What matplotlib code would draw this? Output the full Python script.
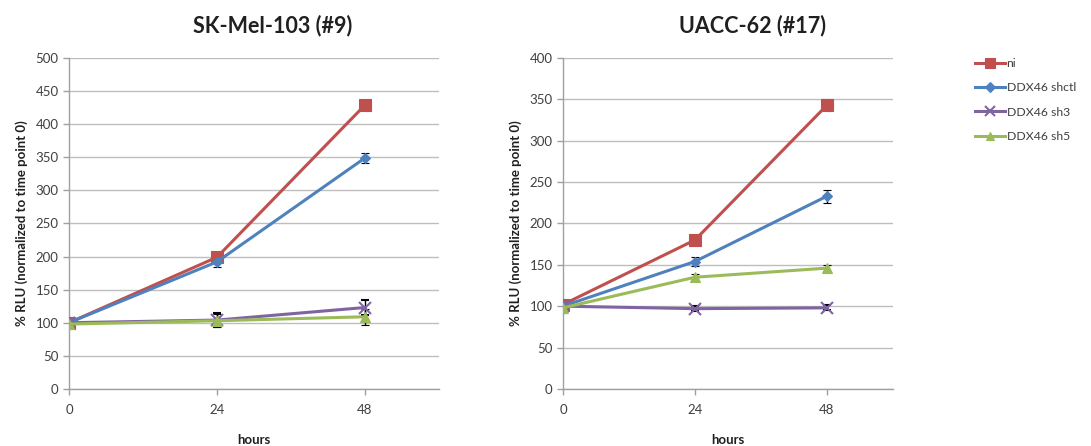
import matplotlib
matplotlib.use("Agg")
import matplotlib.pyplot as plt
from matplotlib.lines import Line2D

plt.rcParams['font.family'] = ['Lato', 'DejaVu Sans']

hours = [0, 24, 48]
series_names = ["ni", "DDX46 shctl", "DDX46 sh3", "DDX46 sh5"]

# SK-Mel-103 (#9)
sk_ni = [100, 199, 429]
sk_shctl = [100, 192, 349]
sk_sh3 = [100, 104, 123]
sk_sh5 = [98, 103, 109]
sk_ni_err = [3, 4, 4]
sk_shctl_err = [3, 8, 7]
sk_sh3_err = [3, 10, 12]
sk_sh5_err = [3, 10, 12]

# UACC-62 (#17)
ua_ni = [102, 180, 343]
ua_shctl = [100, 154, 233]
ua_sh3 = [100, 97, 98]
ua_sh5 = [98, 135, 146]
ua_ni_err = [3, 4, 4]
ua_shctl_err = [6, 5, 8]
ua_sh3_err = [6, 3, 3]
ua_sh5_err = [6, 4, 4]

colors = ["#C0504D", "#4F81BD", "#8064A2", "#9BBB59"]
markers = ["s", "D", "x", "^"]
msizes = [8.5, 5.5, 8, 7.5]

fig = plt.figure(figsize=(10.91, 4.46), dpi=100)
ax1 = fig.add_axes([0.0632, 0.128, 0.3392, 0.742])
ax2 = fig.add_axes([0.516, 0.128, 0.3025, 0.742])

panels = [
    (ax1, [sk_ni, sk_shctl, sk_sh3, sk_sh5],
     [sk_ni_err, sk_shctl_err, sk_sh3_err, sk_sh5_err], 500),
    (ax2, [ua_ni, ua_shctl, ua_sh3, ua_sh5],
     [ua_ni_err, ua_shctl_err, ua_sh3_err, ua_sh5_err], 400),
]

grid_c = "#BEBEBE"
text_c = "#404040"

for ax, data, errs, ymax in panels:
    for vals, err, c, m, ms in zip(data, errs, colors, markers, msizes):
        ax.errorbar(hours, vals, yerr=err, color=c, lw=2.2, marker=m, ms=ms,
                    mfc=c, mec=c, mew=1.5 if m == "x" else 0.8,
                    ecolor="black", elinewidth=1.0, capsize=3, capthick=1.0,
                    zorder=3)
    ax.set_xlim(0, 60)
    ax.set_ylim(0, ymax)
    ax.set_xticks(hours)
    ax.set_yticks(range(0, ymax + 1, 50))
    ax.yaxis.grid(True, color=grid_c, lw=1.0)
    ax.set_axisbelow(True)
    for s in ["top", "right"]:
        ax.spines[s].set_visible(False)
    for s in ["left", "bottom"]:
        ax.spines[s].set_color("#A0A0A0")
        ax.spines[s].set_linewidth(1.0)
    ax.tick_params(axis="both", colors="#A0A0A0", labelcolor=text_c,
                   labelsize=9.5, length=4, width=1.0)
    ax.tick_params(axis="x", pad=7)
    ax.set_xlabel("hours", fontsize=9.5, fontweight="bold", color="#202020",
                  labelpad=13)
    ax.set_ylabel("% RLU (normalized to time point 0)", fontsize=9.5,
                  fontweight="bold", color="#202020", labelpad=5)

fig.text(0.250, 0.943, "SK-Mel-103 (#9)", ha="center", va="center",
         fontsize=15.5, fontweight="bold", color="#202020")
fig.text(0.690, 0.943, "UACC-62 (#17)", ha="center", va="center",
         fontsize=15.5, fontweight="bold", color="#202020")

handles = [Line2D([0], [0], color=c, lw=2.2, marker=m, ms=ms * 0.85,
                  mfc=c, mec=c, mew=1.5 if m == "x" else 0.8)
           for c, m, ms in zip(colors, markers, msizes)]
fig.legend(handles, series_names, loc="upper left",
           bbox_to_anchor=(0.884, 0.895), frameon=False, fontsize=8.8,
           handlelength=2.4, handletextpad=0.15, labelspacing=1.1,
           labelcolor=text_c)

fig.savefig("out.png", dpi=100)
